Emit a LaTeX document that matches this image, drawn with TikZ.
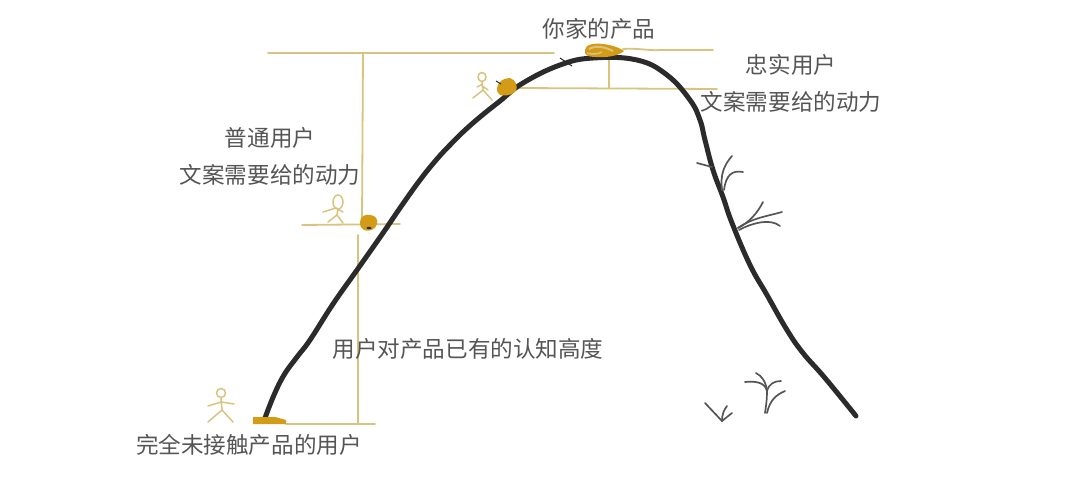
\documentclass[tikz,border=0pt]{standalone}
\usepackage{fontspec}
\newfontfamily\cjk{Noto Sans CJK SC}
\definecolor{sand}{HTML}{D9C47F}
\definecolor{ochre}{HTML}{D49B17}
\definecolor{ridge}{HTML}{2B2B2B}
\definecolor{inktext}{HTML}{555555}
\tikzset{
  x=0.02cm,y=-0.02cm,
  caption/.style={font=\cjk\fontsize{12.85pt}{15pt}\selectfont,text=inktext,inner sep=0pt},
  guide/.style={draw=sand,line width=0.036cm,line cap=round},
  ridgeline/.style={draw=ridge,line width=0.1cm,line cap=round,line join=round},
  twig/.style={draw=ridge!80,line width=0.034cm,line cap=round},
  walker/.style={draw=sand,line width=0.03cm,line cap=round},
  pebble/.style={fill=ochre,draw=none}
}
\begin{document}
\begin{tikzpicture}
\useasboundingbox (0,0) rectangle (1080,500);
\fill[white] (0,0) rectangle (1080,500);

% guide lines measuring each climber's height
\draw[guide] (268,53) -- (554,53);
\draw[guide] (623,49) .. controls (640,48) and (650,51) .. (660,50) -- (713,50);
\draw[guide] (609,57) -- (609,88);
\draw[guide] (518,88) -- (717,89);
\draw[guide] (363,53) -- (362,222);
\draw[guide] (302,225) -- (400,224);
\draw[guide] (358,235) -- (358,424);
\draw[guide] (286,424) -- (375,424);

% the hill
\draw[ridgeline] plot[smooth,tension=0.7] coordinates {
  (265,418) (274,395) (284,375) (297,357) (310,340) (333,304) (357,270)
  (383,233) (400,208) (420,180) (437,159) (450,145) (463,132) (480,117)
  (500,101) (523,83) (560,65) (593,58) (637,60) (667,75) (690,100)
  (700,120) (705,140) (713,170) (723,197) (732,223) (750,265) (767,295)
  (787,330) (803,353) (825,378) (856,416)};
\draw[draw=ridge,line width=0.02cm] (560,58) -- (572,66);

% pebbles and the product on the summit
\fill[pebble] (253,417) -- (275,417) -- (286,420) -- (286,424) -- (253,424) -- cycle;
\fill[pebble] (360,222) .. controls (360,216) and (366,214) .. (370,215)
  .. controls (376,215) and (378,220) .. (377,224)
  .. controls (376,230) and (368,232) .. (364,230)
  .. controls (361,229) and (360,226) .. (360,222) -- cycle;
\fill[ridge] (369,228) ellipse (2.5 and 1.2);
\fill[pebble] (497,88) .. controls (498,82) and (503,78) .. (510,78)
  .. controls (516,80) and (518,86) .. (516,91)
  .. controls (512,96) and (503,96) .. (500,95)
  .. controls (498,93) and (496,91) .. (497,88) -- cycle;
\draw[draw=ridge,line width=0.02cm] (496,81) -- (501,84);
\fill[pebble] (585,50) .. controls (585,44) and (595,43) .. (603,44)
  .. controls (612,45) and (620,48) .. (624,51)
  .. controls (619,56) and (605,58) .. (595,57)
  .. controls (588,57) and (584,55) .. (585,50) -- cycle;
\draw[draw=sand,line width=0.04cm] (589,49) .. controls (596,45) and (605,47) .. (613,51);
\draw[draw=sand,line width=0.03cm] (587,53) .. controls (592,55) and (598,54) .. (602,52);

% stick figures
\draw[walker] (221,393) circle (4.5);
\draw[walker] (221,398) -- (222,410) (208,406) -- (221,402) -- (234,404)
  (208,422) -- (222,410) -- (233,422);
\draw[walker] (338,202) ellipse (5 and 7);
\draw[walker] (338,209) -- (337,215) (323,212) -- (336,208) -- (343,212)
  (328,222) -- (337,215) -- (343,223);
\draw[walker] (482,77) ellipse (4 and 4.5);
\draw[walker] (482,82) -- (483,90) (477,87) -- (481,85) -- (488,90)
  (473,98) -- (483,90) -- (492,100);

% twigs along the far slope
\draw[twig] (697,163) -- (712,167);
\draw[twig] (722,190) .. controls (720,175) and (724,165) .. (732,156);
\draw[twig] (724,190) .. controls (726,175) and (732,170) .. (743,172);
\draw[twig] (738,228) .. controls (750,222) and (758,212) .. (763,202);
\draw[twig] (738,228) .. controls (752,218) and (768,216) .. (782,212);
\draw[twig] (739,230) .. controls (752,223) and (770,218) .. (780,226);

% grass tufts at the foot
\draw[twig] (765,413) .. controls (767,400) and (767,395) .. (767,390);
\draw[twig] (767,413) .. controls (770,400) and (776,395) .. (785,391);
\draw[twig] (767,391) .. controls (765,382) and (755,381) .. (745,382);
\draw[twig] (767,391) .. controls (766,382) and (762,376) .. (756,373);
\draw[twig] (767,391) .. controls (769,384) and (774,381) .. (781,381);
\draw[twig] (705,403) -- (722,421);
\draw[twig] (722,421) .. controls (722,414) and (724,410) .. (727,406);
\draw[twig] (722,421) -- (732,413);

% captions
\node[caption] (product) at (599,29) {你家的产品};
\node[caption] (loyal) at (791,65) {忠实用户};
\node[caption] (loyalpush) at (791,102) {文案需要给的动力};
\node[caption] (regular) at (270,138) {普通用户};
\node[caption] (regularpush) at (270,175) {文案需要给的动力};
\node[caption] (known) at (468,349) {用户对产品已有的认知高度};
\node[caption] (newcomer) at (249,445) {完全未接触产品的用户};
\end{tikzpicture}
\end{document}
